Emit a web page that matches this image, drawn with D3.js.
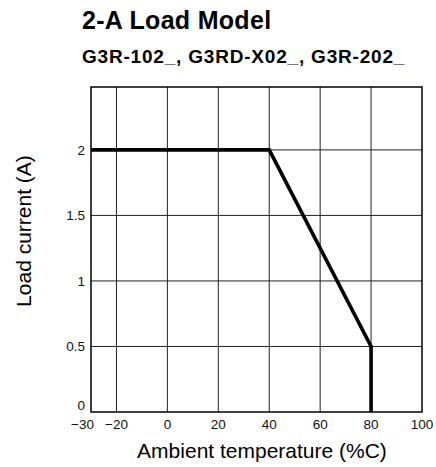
<!DOCTYPE html>
<html>
<head>
<meta charset="utf-8">
<script src="https://cdn.jsdelivr.net/npm/d3@7"></script>
<style>
  body { margin: 0; background: #fff; }
  svg { display: block; font-family: "Liberation Sans", Arial, sans-serif; }
  .grid line { stroke: #222; stroke-width: 1; }
  .tick-label { font-size: 13.5px; fill: #111; }
</style>
</head>
<body>
<svg id="chart" width="436" height="467"></svg>
<script>
// derating curve
const temps = [-30, 40, 80, 80];
const currents = [2, 2, 0.5, 0];

const xTicks = [-30, -20, 0, 20, 40, 60, 80, 100];
const yTicks = [0, 0.5, 1, 1.5, 2];

const svg = d3.select("#chart");
const M = { left: 91, right: 422, top: 87, bottom: 412 };

const x = d3.scaleLinear().domain([-30, 100]).range([M.left, M.right]);
const y = d3.scaleLinear().domain([0, 2.48]).range([M.bottom, M.top]);

svg.append("text")
  .attr("x", 82).attr("y", 29)
  .attr("font-size", 25).attr("font-weight", "bold")
  .attr("letter-spacing", 0.3)
  .text("2-A Load Model");

svg.append("text")
  .attr("x", 82).attr("y", 63)
  .attr("font-size", 19).attr("font-weight", "bold")
  .attr("letter-spacing", 0.8)
  .text("G3R-102_, G3RD-X02_, G3R-202_");

// grid
const grid = svg.append("g").attr("class", "grid");
grid.selectAll(".vx")
  .data(xTicks.filter((d) => d > -30 && d < 100))
  .join("line")
  .attr("x1", (d) => x(d)).attr("x2", (d) => x(d))
  .attr("y1", M.top).attr("y2", M.bottom);
grid.selectAll(".hy")
  .data(yTicks.filter((d) => d > 0))
  .join("line")
  .attr("x1", M.left).attr("x2", M.right)
  .attr("y1", (d) => y(d)).attr("y2", (d) => y(d));

// frame
svg.append("rect")
  .attr("x", M.left).attr("y", M.top)
  .attr("width", M.right - M.left).attr("height", M.bottom - M.top)
  .attr("fill", "none").attr("stroke", "#000").attr("stroke-width", 1.5);

// tick labels (-30 pushed left so it clears -20)
svg.selectAll(".xl")
  .data(xTicks)
  .join("text")
  .attr("class", "tick-label")
  .attr("x", (d) => (d === -30 ? x(d) + 3 : x(d)))
  .attr("y", 429)
  .attr("text-anchor", (d) => (d === -30 ? "end" : "middle"))
  .text((d) => (d < 0 ? "\u2212" + Math.abs(d) : d));

// y "0" lifted so it sits above the -30 label
svg.selectAll(".yl")
  .data(yTicks)
  .join("text")
  .attr("class", "tick-label")
  .attr("x", 85).attr("y", (d) => (d === 0 ? y(d) - 7 : y(d)))
  .attr("dy", "0.35em")
  .attr("text-anchor", "end")
  .text((d) => d);

// curve
svg.append("path")
  .datum(temps.map((t, i) => [t, currents[i]]))
  .attr("fill", "none")
  .attr("stroke", "#000")
  .attr("stroke-width", 3.6)
  .attr("d", d3.line().x((d) => x(d[0])).y((d) => y(d[1])));

// axis titles
svg.append("text")
  .attr("x", 262).attr("y", 458)
  .attr("text-anchor", "middle")
  .attr("font-size", 21)
  .text("Ambient temperature (%C)");

svg.append("text")
  .attr("transform", "translate(31,231) rotate(-90)")
  .attr("text-anchor", "middle")
  .attr("font-size", 21)
  .text("Load current (A)");
</script>
</body>
</html>
